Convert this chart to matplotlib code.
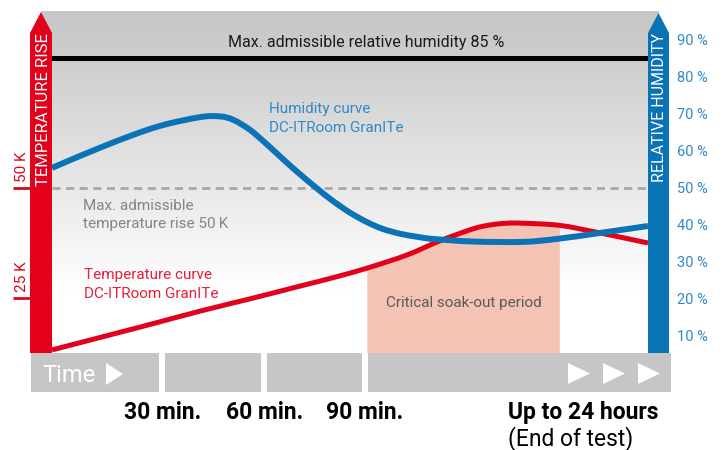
import numpy as np
import matplotlib
matplotlib.use('Agg')
import matplotlib.pyplot as plt
from matplotlib.colors import LinearSegmentedColormap
from matplotlib.patches import Polygon, Rectangle, PathPatch
from matplotlib.path import Path
from matplotlib.transforms import blended_transform_factory, offset_copy

plt.rcParams['font.family'] = ['Roboto', 'DejaVu Sans']

W, H = 724, 450

# x: position along the (schematic) test run, 0 = start, 100 = end of test
# humidity curve, relative humidity in %
hum_x = [0, 9.2, 17.6, 24.8, 28.2, 30.4, 33.2, 36.1, 38.8, 41.6, 44.5, 47.1,
         50.0, 52.9, 55.5, 58.4, 61.2, 63.9, 70.6, 79.0, 84.7, 91.9, 100]
hum_y = [55.3, 61.5, 66.4, 69.0, 69.2, 68.3, 65.6, 61.6, 57.6, 53.6, 49.7, 46.4,
         43.2, 40.6, 38.8, 37.5, 36.7, 36.1, 35.4, 35.3, 36.1, 37.7, 39.6]

# temperature curve, temperature rise in K
temp_x = [0, 14.8, 24.8, 33.2, 41.6, 47.1, 52.9, 59.6, 65.1, 70.6, 73.5, 76.3,
          79.0, 85.2, 91.9, 100]
temp_k = [13.2, 18.4, 22.0, 24.8, 27.7, 29.6, 31.8, 34.8, 38.0, 40.7, 41.6, 42.0,
          42.0, 41.5, 39.8, 37.5]

soak_start, soak_end = 52.9, 85.2
time_marks = [18.5, 35.6, 52.5]
time_labels = ['30 min.', '60 min.', '90 min.']
end_x = 76.5

hum_ticks = [10, 20, 30, 40, 50, 60, 70, 80, 90]
temp_ticks = [25, 50]
max_humidity = 85
max_temp_rise = 50

RED = '#e2001a'
BLUE = '#0a73b5'
BLUE_TXT = '#2f8ac8'
GRAY_BAR = '#c6c6c6'


def smooth_segments(x, y):
    """Catmull-Rom through the points, as cubic bezier pieces"""
    p = np.column_stack([x, y]).astype(float)
    segs = []
    for i in range(len(p) - 1):
        p0 = p[i - 1] if i > 0 else p[i]
        p3 = p[i + 2] if i + 2 < len(p) else p[i + 1]
        c1 = p[i] + (p[i + 1] - p0) / 6
        c2 = p[i + 1] - (p3 - p[i]) / 6
        segs.append((p[i], c1, c2, p[i + 1]))
    return segs


def curve_path(segs):
    verts = [segs[0][0]]
    codes = [Path.MOVETO]
    for s in segs:
        verts += [s[1], s[2], s[3]]
        codes += [Path.CURVE4] * 3
    return Path(verts, codes)


fig = plt.figure(figsize=(W / 100, H / 100), dpi=100)
ax = fig.add_axes([52 / W, (H - 353) / H, 596 / W, 341 / H])
ax_t = ax.twinx()
ax.set_zorder(ax_t.get_zorder() + 1)
ax.patch.set_visible(False)

# background gradient (grey at top fading to white)
cmap = LinearSegmentedColormap.from_list(
    'bg', [(0, '#c6c6c6'), (0.126, '#cdcdcd'), (0.516, '#e8e8e8'),
           (0.815, '#ffffff'), (1, '#ffffff')])
grad = np.linspace(0, 1, 256).reshape(-1, 1)
ax_t.imshow(grad, cmap=cmap, aspect='auto', origin='upper',
            extent=(-1.85, 101.76, 12.5, 90), clip_on=False, zorder=0)

ax.set_xlim(0, 100)
ax.set_ylim(5.27, 97.43)
ax_t.set_xlim(0, 100)
ax_t.set_ylim(12.5, 90)
t_bottom = ax_t.get_ylim()[0]

# critical soak-out period: area under the temperature curve
t_segs = smooth_segments(temp_x, temp_k)
i0, i1 = temp_x.index(soak_start), temp_x.index(soak_end)
soak = curve_path(t_segs[i0:i1])
verts = list(soak.vertices) + [(soak_end, t_bottom), (soak_start, t_bottom),
                               (soak_start, t_bottom)]
codes = list(soak.codes) + [Path.LINETO, Path.LINETO, Path.CLOSEPOLY]
ax_t.add_patch(PathPatch(Path(verts, codes), facecolor='#f4c3b3', lw=0, zorder=1))

ax_t.axhline(max_temp_rise, color='#a8a8a8', lw=2, dashes=(2.9, 2.0), zorder=2)
ax_t.add_patch(PathPatch(curve_path(t_segs), facecolor='none', edgecolor=RED,
                         lw=3.6, capstyle='butt', zorder=3))

ax.axhline(max_humidity, color='black', lw=3.6, zorder=2)
ax.add_patch(PathPatch(curve_path(smooth_segments(hum_x, hum_y)), facecolor='none',
                       edgecolor=BLUE, lw=4.3, capstyle='butt', zorder=4))

for a in (ax, ax_t):
    for s in a.spines.values():
        s.set_visible(False)
    a.set_xticks([])
ax_t.set_yticks([])
ax.yaxis.tick_right()
ax.set_yticks(hum_ticks, [f'{v} %' for v in hum_ticks])
ax.tick_params(axis='y', length=0, pad=21, labelsize=10.5, labelcolor=BLUE_TXT)

# overlay in pixel coordinates for the framing elements
ov = fig.add_axes([0, 0, 1, 1], zorder=5)
ov.set_xlim(0, W)
ov.set_ylim(H, 0)
ov.axis('off')
ov.patch.set_alpha(0)

ov.add_patch(Polygon([(30, 353), (30, 33), (41, 12), (52, 33), (52, 353)],
                     closed=True, color=RED, lw=0))
ov.add_patch(Polygon([(648, 353), (648, 33), (658.5, 13), (669, 33), (669, 353)],
                     closed=True, color=BLUE, lw=0))
ov.text(48, 110, 'TEMPERATURE RISE', color='white', fontsize=12, rotation=90,
        rotation_mode='anchor', ha='center', va='baseline')
ov.text(664, 108, 'RELATIVE HUMIDITY', color='white', fontsize=11.5, rotation=90,
        rotation_mode='anchor', ha='center', va='baseline')

# temperature ticks on the left
tr_t = blended_transform_factory(ov.transData, ax_t.transData)
for v in temp_ticks:
    ov.plot([13, 30], [v, v], color=RED, lw=2, transform=tr_t, clip_on=False,
            solid_capstyle='butt')
    ov.text(26, v, f'{v} K', color=RED, fontsize=11, rotation=90,
            rotation_mode='anchor', ha='left', va='baseline',
            transform=offset_copy(tr_t, fig=fig, y=6, units='dots'))

# time bar
tr_b = blended_transform_factory(ax.transData, ov.transData)
gap = 1.0
edges = [-3.5] + [e for t in time_marks for e in (t - gap / 2, t + gap / 2)] + [103.9]
for x0, x1 in zip(edges[::2], edges[1::2]):
    ov.add_patch(Rectangle((x0, 353), x1 - x0, 39, color=GRAY_BAR, lw=0,
                           transform=tr_b))


def tri(x0, y0, w, h):
    return Polygon([(x0, y0), (x0, y0 + h), (x0 + w, y0 + h / 2)],
                   closed=True, color='white', lw=0)


ov.text(42, 382, 'Time', color='white', fontsize=17, ha='left', va='baseline')
ov.add_patch(tri(106, 363, 17, 22))
for x0 in (568, 603, 638):
    ov.add_patch(tri(x0, 363, 22, 21))

for t, lab in zip(time_marks, time_labels):
    ov.text(t, 419, lab, transform=tr_b, ha='center', va='baseline',
            fontsize=16.5, fontweight='bold', color='black')
ov.text(end_x, 419, 'Up to 24 hours', transform=tr_b, ha='left', va='baseline',
        fontsize=16.5, fontweight='bold', color='black')
ov.text(end_x, 445, '(End of test)', transform=tr_b, ha='left', va='baseline',
        fontsize=16.5, color='black')

# annotations
ov.text(366.5, 46.5, 'Max. admissible relative humidity 85 %', ha='center',
        va='baseline', fontsize=11.5, color='#1a1a1a')
ov.text(269, 113, 'Humidity curve', fontsize=11, color=BLUE_TXT, va='baseline')
ov.text(269, 132, 'DC-ITRoom GranITe', fontsize=11, color=BLUE_TXT, va='baseline')
ov.text(83, 210, 'Max. admissible', fontsize=11, color='#858585', va='baseline')
ov.text(83, 228, 'temperature rise 50\u2009K', fontsize=11, color='#858585',
        va='baseline')
ov.text(84, 279, 'Temperature curve', fontsize=11, color='#e5203a', va='baseline')
ov.text(84, 298, 'DC-ITRoom GranITe', fontsize=11, color='#e5203a', va='baseline')
ov.text(463.5, 307, 'Critical soak-out period', fontsize=11, color='#5a5a5a',
        ha='center', va='baseline')

fig.savefig('out.png', dpi=100)
